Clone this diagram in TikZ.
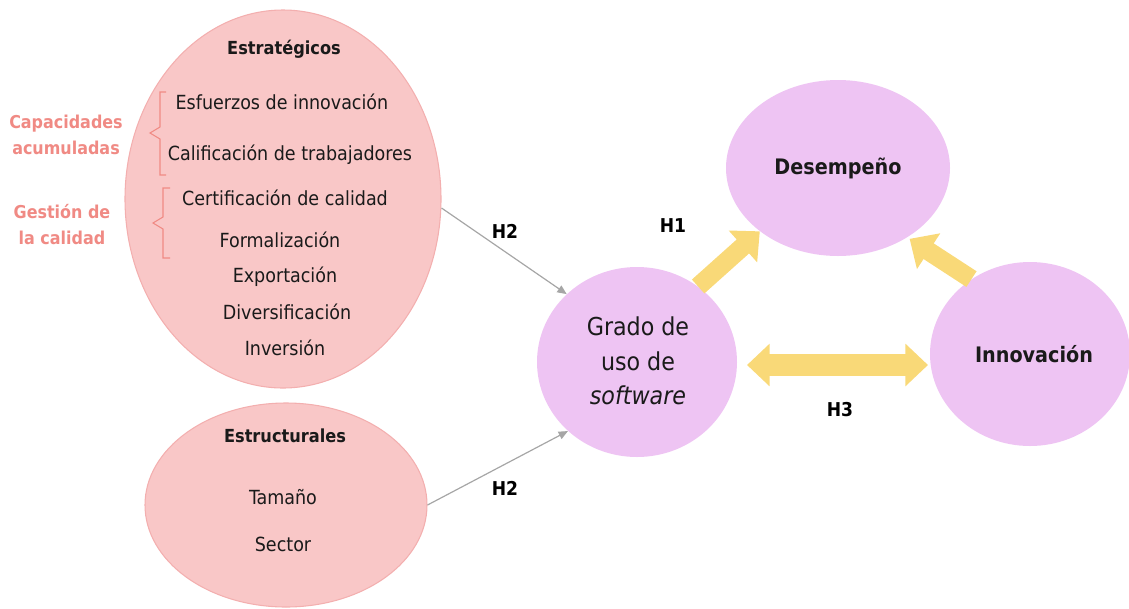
\documentclass[tikz,border=0pt]{standalone}
\usepackage{fontspec}
\setmainfont{DejaVu Sans Condensed}
\usetikzlibrary{shapes.geometric,arrows.meta}
\definecolor{pinkfill}{HTML}{F9C7C7}
\definecolor{pinkline}{HTML}{F3AFAF}
\definecolor{lilac}{HTML}{EEC4F3}
\definecolor{yel}{HTML}{F9D978}
\definecolor{salmon}{HTML}{F08A84}
\definecolor{txt}{HTML}{1A1A1A}
\definecolor{grayline}{HTML}{A6A6A6}
\tikzset{yeltip/.tip={Triangle[length=17pt,width=31pt]}}
\begin{document}
\begin{tikzpicture}[x=0.75pt,y=-0.75pt,
 pinkell/.style={ellipse,fill=pinkfill,draw=pinkline,line width=0.8pt,inner sep=0pt},
 lilacell/.style={ellipse,fill=lilac,inner sep=0pt},
 item/.style={text=txt,font=\fontsize{14.6}{17}\selectfont,inner sep=0pt},
 head/.style={text=txt,font=\bfseries\fontsize{13.5}{16}\selectfont,inner sep=0pt},
 side/.style={text=salmon,font=\bfseries\fontsize{13.3}{19.5}\selectfont,align=center,inner sep=0pt},
 big/.style={text=txt,font=\fontsize{18.5}{26}\selectfont,align=center,inner sep=0pt},
 bighead/.style={text=txt,font=\bfseries\fontsize{16}{19}\selectfont,inner sep=0pt},
 hlab/.style={text=black,font=\bfseries\fontsize{14.3}{16}\selectfont,inner sep=0pt},
 grayarrow/.style={draw=grayline,line width=0.9pt,-{Triangle[length=7pt,width=6pt]}},
 bigarrow/.style={draw=yel,line width=14pt},
 bracket/.style={draw=salmon,line width=0.8pt}]
\useasboundingbox (0,0) rectangle (1129,608);

% ellipses
\node[pinkell,minimum width=237pt,minimum height=283.5pt] (estrat) at (283,199) {};
\node[pinkell,minimum width=211.5pt,minimum height=153pt] (estruct) at (286,505) {};
\node[lilacell,minimum width=150pt,minimum height=142.5pt] (grado) at (637,362) {};
\node[lilacell,minimum width=168pt,minimum height=132pt] (desemp) at (838,168) {};
\node[lilacell,minimum width=150pt,minimum height=138pt] (innov) at (1030,354) {};

% texts in Estrategicos
\node[head] (t0) at (284,49) {Estratégicos};
\node[item] (t1) at (282,102) {Esfuerzos de innovación};
\node[item] (t2) at (290,155) {Calificación de trabajadores};
\node[item] (t3) at (285,198) {Certificación de calidad};
\node[item] (t4) at (280,240) {Formalización};
\node[item] (t5) at (285,277) {Exportación};
\node[item] (t6) at (287,312) {Diversificación};
\node[item] (t7) at (285,348) {Inversión};

% side labels
\node[side] (cap) at (66,135) {Capacidades\\acumuladas};
\node[side] (ges) at (62,225) {Gestión de\\la calidad};

% brackets
\draw[bracket] (166,92) -- (160,92) -- (160,127) -- (150,133) -- (160,139) -- (160,175) -- (166,175);
\draw[bracket] (170,188) -- (163,188) -- (163,217) -- (153,223) -- (163,229) -- (163,258) -- (170,258);

% Estructurales
\node[head] (s0) at (285,436) {Estructurales};
\node[item] (s1) at (283,497) {Tamaño};
\node[item] (s2) at (283,544) {Sector};

% central
\node[big] (gtext) at (638,361) {Grado de\\uso de\\\itshape software};
\node[bighead] (dtext) at (838,168) {Desempeño};
\node[bighead] (itext) at (1034,354) {Innovación};

% gray arrows
\coordinate (e1) at ([yshift=-9*0.75pt]estrat.east);
\draw[grayarrow] (e1) -- (grado.136);
\draw[grayarrow] (estruct.east) -- (grado.225);
\node[hlab] (h2a) at (505,231) {H2};
\node[hlab] (h2b) at (505,488) {H2};

% yellow arrows
\draw[bigarrow,-{yeltip}] (grado.51) -- (desemp.219);
\draw[bigarrow,-{yeltip},shorten >=2pt] (innov.128) -- (desemp.-45);
\coordinate (h3l) at (747,365);
\coordinate (h3r) at (928,365);
\draw[bigarrow,line width=16pt,{yeltip}-{yeltip}] (h3l) -- (h3r);
\node[hlab] (h1) at (673,226) {H1};
\node[hlab] (h3) at (840,410) {H3};
\end{tikzpicture}
\end{document}
